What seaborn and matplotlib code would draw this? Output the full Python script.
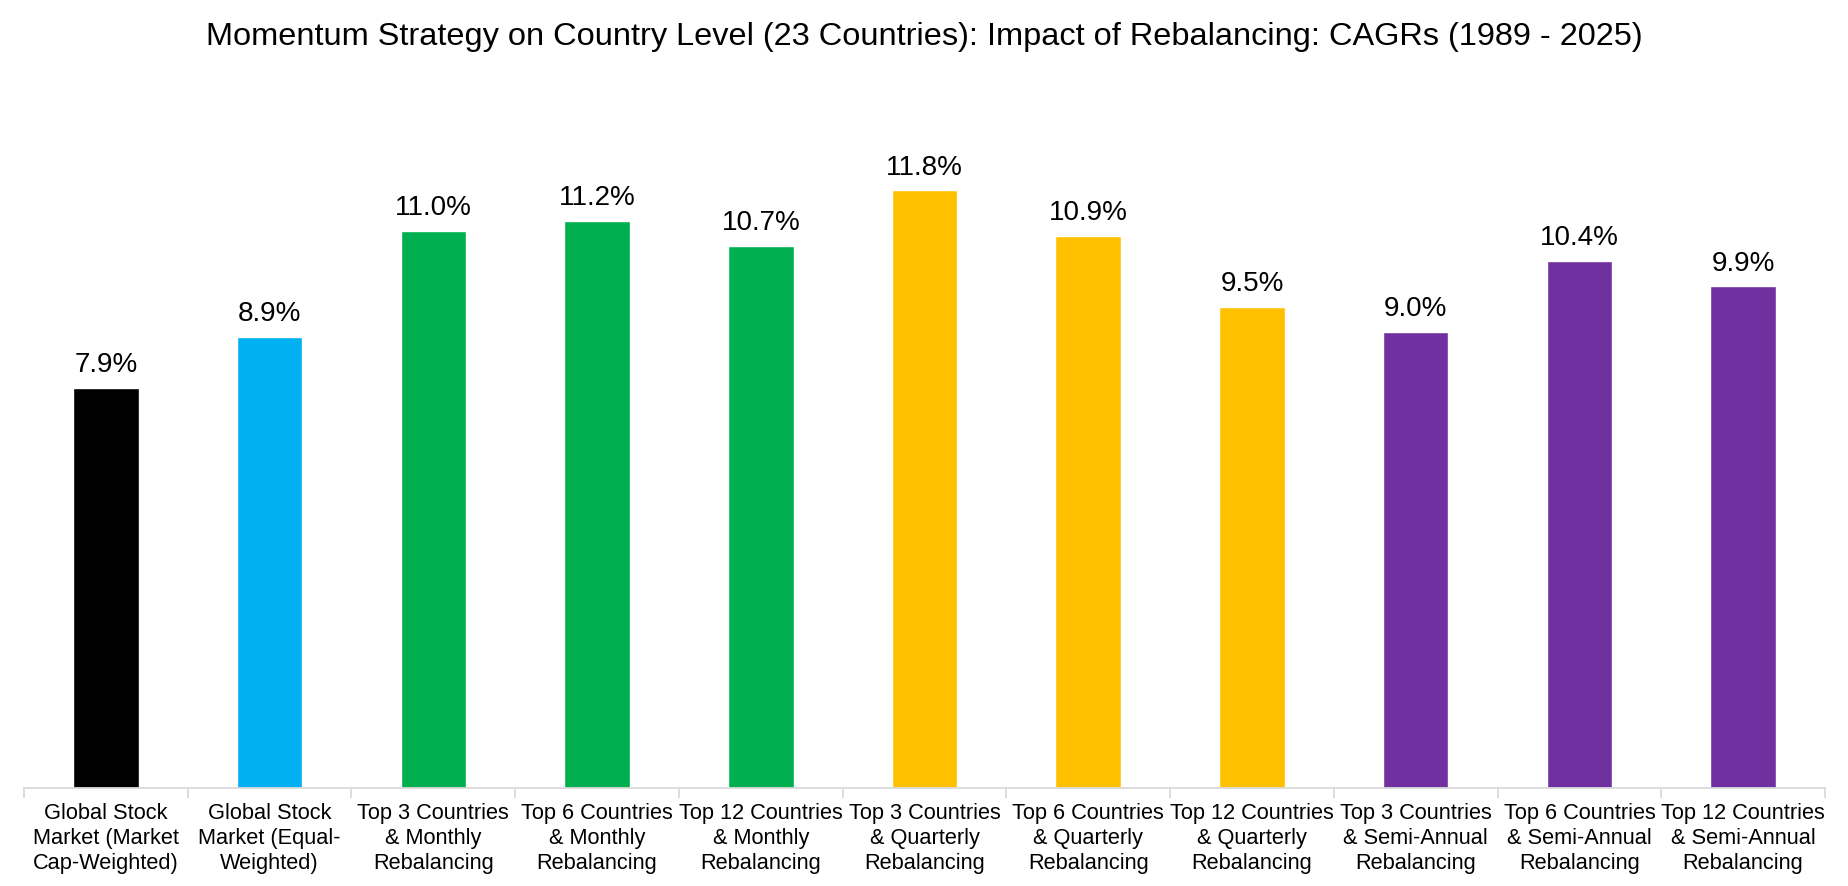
import matplotlib
matplotlib.use('Agg')
import matplotlib.pyplot as plt
import seaborn as sns
import pandas as pd
import numpy as np

# chart data
labels = [
    'Global Stock\nMarket (Market\nCap-Weighted)',
    'Global Stock\nMarket (Equal-\nWeighted)',
    'Top 3 Countries\n& Monthly\nRebalancing',
    'Top 6 Countries\n& Monthly\nRebalancing',
    'Top 12 Countries\n& Monthly\nRebalancing',
    'Top 3 Countries\n& Quarterly\nRebalancing',
    'Top 6 Countries\n& Quarterly\nRebalancing',
    'Top 12 Countries\n& Quarterly\nRebalancing',
    'Top 3 Countries\n& Semi-Annual\nRebalancing',
    'Top 6 Countries\n& Semi-Annual\nRebalancing',
    'Top 12 Countries\n& Semi-Annual\nRebalancing',
]
cagr = [7.9, 8.9, 11.0, 11.2, 10.7, 11.8, 10.9, 9.5, 9.0, 10.4, 9.9]
bar_colors = ['#000000', '#00B0F0',
              '#00B050', '#00B050', '#00B050',
              '#FFC000', '#FFC000', '#FFC000',
              '#7030A0', '#7030A0', '#7030A0']

df = pd.DataFrame({'Strategy': labels, 'CAGR': cagr})

sns.set_style('white')
plt.rcParams['font.family'] = ['Liberation Sans', 'DejaVu Sans']
plt.rcParams['text.color'] = 'black'
plt.rcParams['xtick.color'] = 'black'

fig = plt.figure(figsize=(18.49, 8.86), dpi=100)
ax = fig.add_axes([0.013, 0.111, 0.974, 0.80])

sns.barplot(data=df, x='Strategy', y='CAGR', hue='Strategy',
            palette=bar_colors, legend=False, width=0.4,
            saturation=1, ax=ax)

for i, v in enumerate(cagr):
    ax.annotate(f'{v:.1f}%', (i, v), xytext=(0, 7), textcoords='offset points',
                ha='center', va='bottom', fontsize=20, color='black')

ax.set_xlim(-0.5, len(cagr) - 0.5)
ax.set_ylim(0, 14)
ax.set_yticks([])
ax.set_xlabel('')
ax.set_ylabel('')

# ticks between categories, labels centred under bars
ax.set_xticks(np.arange(len(cagr)))
ax.set_xticklabels(labels, fontsize=15.7, linespacing=1.25, color='black')
ax.set_xticks(np.arange(-0.5, len(cagr)), minor=True)
ax.tick_params(axis='x', which='major', length=0, pad=11)
ax.tick_params(axis='x', which='minor', length=7, width=1.3, color='#d9d9d9', bottom=True)

for side in ['left', 'right', 'top']:
    ax.spines[side].set_visible(False)
ax.spines['bottom'].set_color('#d9d9d9')
ax.spines['bottom'].set_linewidth(1.3)

fig.suptitle('Momentum Strategy on Country Level (23 Countries): Impact of Rebalancing: CAGRs (1989 - 2025)',
             fontsize=23.4, y=0.975, color='black')

fig.savefig('out.png', dpi=100)
